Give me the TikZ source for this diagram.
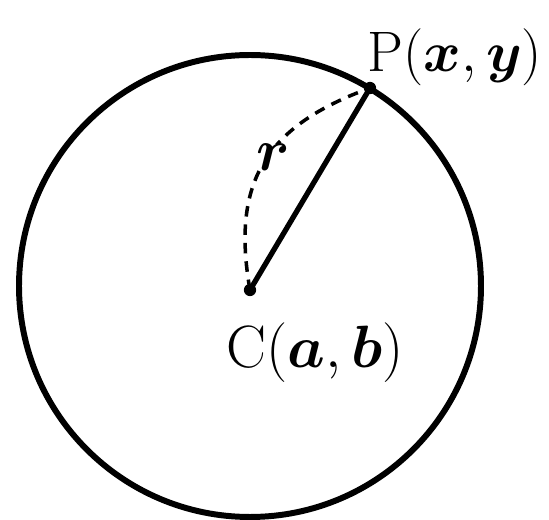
\RequirePackage{fix-cm}
\documentclass[tikz,border=0pt]{standalone}
\usepackage{amsmath}
\usetikzlibrary{positioning}

\begin{document}
\begin{tikzpicture}[x=0.02cm, y=-0.02cm,
      lbl/.style={
        inner sep=0pt,
        font=\fontsize{34}{40}\selectfont
      },
      pointdot/.style={
        circle, fill=black,
        inner sep=0pt, minimum size=7pt
      },
      rim/.style={line width=3.4pt},
      radiusline/.style={line width=3pt},
      arcline/.style={
        line width=2pt,
        dash pattern=on 6pt off 4.5pt
      }
    ]
      \useasboundingbox (0,0) rectangle (549,520);
      \draw[rim] (250,286) circle [radius=231];
      \node[pointdot] (C) at (250,290) {};
      \node[pointdot] (P) at (370,88) {};
      \draw[radiusline] (C.center) -- (P.center);
      \draw[arcline] (C.center) to[out=100, in=200, looseness=1.2] (P.center);
      \node[lbl, fill=white] (r) at (273,157) {$\boldsymbol{r}$};
      \node[lbl, font=\fontsize{32.5}{40}\selectfont, anchor=base west] (Plabel) at (367,72) {P$(\boldsymbol{x},\boldsymbol{y})$};
      \node[lbl, anchor=base west] (Clabel) at (226,368) {C$(\boldsymbol{a},\boldsymbol{b})$};
    \end{tikzpicture}
\end{document}
